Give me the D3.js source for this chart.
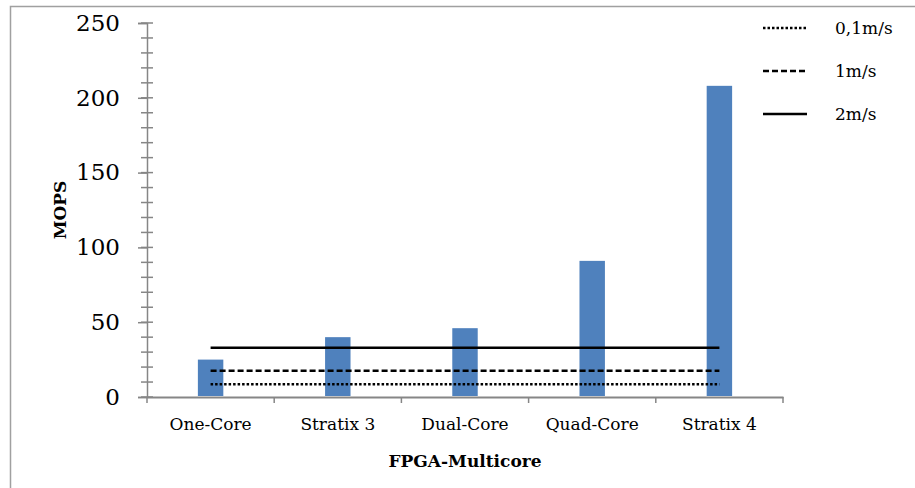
<!DOCTYPE html>
<html>
<head>
<meta charset="utf-8">
<script src="https://cdn.jsdelivr.net/npm/d3@7"></script>
<style>
  body { margin: 0; background: #fff; }
  svg text { font-family: "DejaVu Serif", "Liberation Serif", serif; fill: #000; }
</style>
</head>
<body>
<div id="chart"></div>
<script>
const categories = ['One-Core', 'Stratix 3', 'Dual-Core', 'Quad-Core', 'Stratix 4'];
const mops = [25, 40, 46, 91, 208];
const speedNames = ['0,1m/s', '1m/s', '2m/s'];
const speedValues = [8.5, 17.5, 33];
const yTicks = [0, 50, 100, 150, 200, 250];

const width = 915;
const height = 488;

const svg = d3.select('#chart')
    .append('svg')
    .attr('width', width)
    .attr('height', height);

// outer frame (right/bottom run off the picture)
svg.append('rect')
    .attr('x', 10.5).attr('y', 6.5)
    .attr('width', 940).attr('height', 520)
    .attr('fill', 'none')
    .attr('stroke', '#a0a0a0')
    .attr('stroke-width', 1.5);

const usable = { left: 147, right: 783, top: 23, bottom: 397 };

const xScale = d3.scaleBand()
    .domain(categories)
    .range([usable.left, usable.right]);

const yScale = d3.scaleLinear()
    .domain([0, 250])
    .range([usable.bottom, usable.top]);

const axisColor = '#868686';

// minor ticks every 10
const minor = svg.append('g').attr('transform', `translate(${usable.left}, 0)`);
minor.selectAll('line')
    .data(d3.range(0, 251, 10))
    .join('line')
    .attr('x1', -6).attr('x2', 6)
    .attr('y1', d => yScale(d)).attr('y2', d => yScale(d))
    .attr('stroke', axisColor).attr('stroke-width', 1.5);

// y axis
const yAxis = svg.append('g')
    .attr('transform', `translate(${usable.left}, 0)`)
    .call(d3.axisLeft(yScale).tickValues(yTicks).tickSize(9).tickPadding(18));
yAxis.select('.domain').attr('stroke', axisColor).attr('stroke-width', 1.5);
yAxis.selectAll('.tick line').attr('stroke', axisColor).attr('stroke-width', 1.5);
yAxis.selectAll('.tick text')
    .attr('font-size', 23)
    .style('font-family', '"DejaVu Serif", serif');

// x axis
const xAxis = svg.append('g')
    .attr('transform', `translate(0, ${usable.bottom})`)
    .call(d3.axisBottom(xScale).tickSize(0).tickPadding(21).tickSizeOuter(0));
xAxis.select('.domain').attr('stroke', axisColor).attr('stroke-width', 2);
xAxis.selectAll('.tick text')
    .attr('font-size', 17)
    .style('font-family', '"DejaVu Serif", serif');

// category separators
svg.append('g').selectAll('line')
    .data(categories.map(c => xScale(c)).concat([usable.right]))
    .join('line')
    .attr('x1', d => d).attr('x2', d => d)
    .attr('y1', usable.bottom).attr('y2', usable.bottom + 6)
    .attr('stroke', axisColor).attr('stroke-width', 1.5);

// bars
const barW = xScale.bandwidth() * 0.2;
svg.append('g').selectAll('rect')
    .data(mops)
    .join('rect')
    .attr('x', (d, i) => xScale(categories[i]) + xScale.bandwidth() / 2 - barW / 2)
    .attr('y', d => yScale(d))
    .attr('width', barW)
    .attr('height', d => usable.bottom - yScale(d) - 1)
    .attr('fill', '#4f81bd');

// reference lines
const dashes = ['2.5,2', '6,3', null];
const cx = c => xScale(c) + xScale.bandwidth() / 2;
const line = d3.line().x(d => cx(d[0])).y(d => yScale(d[1]));
speedValues.forEach((v, i) => {
    svg.append('path')
        .attr('d', line(categories.map(c => [c, v])))
        .attr('fill', 'none')
        .attr('stroke', '#000')
        .attr('stroke-width', 2.5)
        .attr('stroke-dasharray', dashes[i]);
});

// legend
const legendY = [28, 71, 114];
speedNames.forEach((name, i) => {
    const g = svg.append('g').attr('transform', `translate(763, ${legendY[i]})`);
    g.append('line')
        .attr('x1', 0).attr('x2', 44)
        .attr('stroke', '#000')
        .attr('stroke-width', 2.5)
        .attr('stroke-dasharray', dashes[i]);
    g.append('text')
        .attr('x', 72).attr('y', 6)
        .attr('font-size', 17)
        .text(name);
});

// axis titles
svg.append('text')
    .attr('transform', 'translate(66, 210) rotate(-90)')
    .attr('text-anchor', 'middle')
    .attr('font-size', 17)
    .attr('font-weight', 'bold')
    .text('MOPS');

svg.append('text')
    .attr('x', 465).attr('y', 467)
    .attr('text-anchor', 'middle')
    .attr('font-size', 17)
    .attr('font-weight', 'bold')
    .text('FPGA-Multicore');
</script>
</body>
</html>
